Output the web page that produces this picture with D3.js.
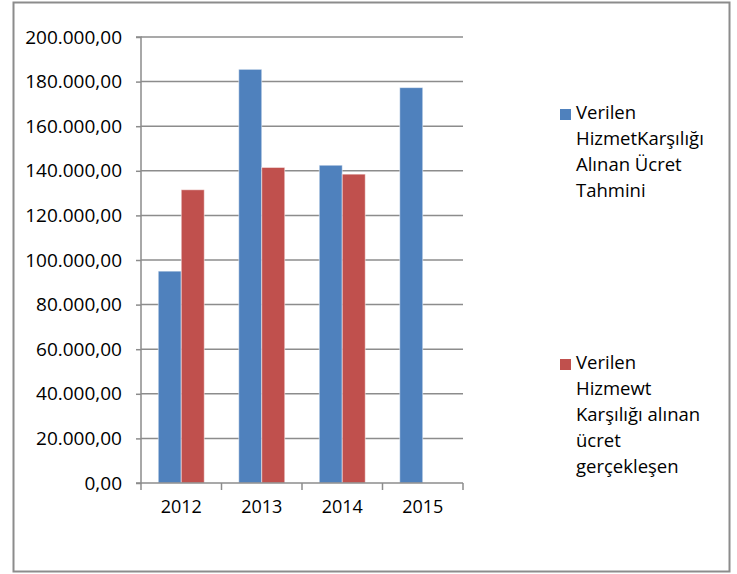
<!DOCTYPE html>
<html>
<head>
<meta charset="utf-8">
<script src="https://cdn.jsdelivr.net/npm/d3@7"></script>
<style>
  body { margin: 0; background: #fff; }
  svg text { font-family: "Open Sans", "Noto Sans", sans-serif; fill: #000; }
</style>
</head>
<body>
<svg id="chart" width="737" height="574"></svg>
<script>
// data
const years = ["2012", "2013", "2014", "2015"];
const seriesNames = ["tahmini", "gerceklesen"];
const tahmini = [95000, 185500, 142500, 177300];
const gerceklesen = [131500, 141500, 138500, null];
const yTicks = [0, 20000, 40000, 60000, 80000, 100000, 120000, 140000, 160000, 180000, 200000];
const legendLines = [
    ["Verilen", "HizmetKarşılığı", "Alınan Ücret", "Tahmini"],
    ["Verilen", "Hizmewt", "Karşılığı alınan", "ücret", "gerçekleşen"]
];
const colors = ["#4F81BD", "#C0504D"];

const svg = d3.select("#chart");
const trFormat = d3.formatLocale({decimal: ",", thousands: ".", grouping: [3], currency: ["", ""]}).format(",.2f");

// outer frame
svg.append("rect")
    .attr("x", 13.5).attr("y", 2.5)
    .attr("width", 716).attr("height", 569)
    .style("fill", "none")
    .style("stroke", "#8c8c8c")
    .style("stroke-width", 2);

// scales
const x0 = d3.scaleBand().domain(years).range([141, 463]).paddingInner(0).paddingOuter(0);
const x1 = d3.scaleBand().domain(seriesNames).range([0, x0.bandwidth()]).paddingInner(0).paddingOuter(0.75);
const y = d3.scaleLinear().domain([0, 200000]).range([483, 37]);

// gridlines
svg.append("g").selectAll("line")
    .data(yTicks.filter(d => d > 0)).enter()
    .append("line")
    .attr("x1", 141).attr("x2", 463)
    .attr("y1", d => y(d)).attr("y2", d => y(d))
    .style("stroke", "#8c8c8c")
    .style("stroke-width", 1.5);

// bars
const table = years.map((yr, i) => ({year: yr, values: [tahmini[i], gerceklesen[i]]}));
svg.append("g").selectAll("g")
    .data(table).enter()
    .append("g")
    .attr("transform", d => `translate(${x0(d.year)},0)`)
    .selectAll("rect")
    .data(d => d.values.map((v, j) => ({key: seriesNames[j], value: v, j})).filter(e => e.value != null))
    .enter().append("rect")
    .attr("x", d => x1(d.key))
    .attr("width", x1.bandwidth())
    .attr("y", d => y(d.value))
    .attr("height", d => y(0) - y(d.value))
    .style("fill", d => colors[d.j])
    .style("stroke", "#ffffff")
    .style("stroke-opacity", 0.5)
    .style("stroke-width", 1);

// axis_y
const axisY = svg.append("g")
    .attr("transform", "translate(141,0)")
    .call(d3.axisLeft(y).tickValues(yTicks).tickFormat(trFormat).tickSize(5).tickPadding(14));
axisY.selectAll("text").style("font-size", "19px").style("fill", "#000");

// axis_x
const axisX = svg.append("g")
    .attr("transform", "translate(0,483)")
    .call(d3.axisBottom(x0).tickSize(0).tickPadding(17));
axisX.selectAll("text").style("font-size", "18px").style("fill", "#000");
axisX.selectAll("g.tick line").remove();
// category boundary ticks
axisX.selectAll("line.sep")
    .data(years.map(d => x0(d)).concat([x0.range()[1]])).enter()
    .append("line")
    .attr("x1", d => d).attr("x2", d => d)
    .attr("y1", 0).attr("y2", 7)
    .style("stroke", "#8c8c8c")
    .style("stroke-width", 1.5);

svg.selectAll(".domain").style("stroke", "#8c8c8c").style("stroke-width", 1.5);
svg.selectAll(".tick line").style("stroke", "#8c8c8c").style("stroke-width", 1.5);
axisY.select(".domain").attr("d", `M-5,${y(200000)}H0V${y(0)}H-5`);
axisX.select(".domain").attr("d", `M141,0H463`);

// legend
const legendTop = [119, 369];
const legend = svg.append("g");
legendLines.forEach((lines, i) => {
    legend.append("rect")
        .attr("x", 560).attr("y", legendTop[i] - 10)
        .attr("width", 11).attr("height", 11)
        .style("fill", colors[i]);
    legend.append("text")
        .attr("x", 576).attr("y", legendTop[i])
        .style("font-size", "18.5px")
        .selectAll("tspan")
        .data(lines).enter()
        .append("tspan")
        .attr("x", 576)
        .attr("dy", (d, k) => k === 0 ? 0 : 26)
        .text(d => d);
});
</script>
</body>
</html>
